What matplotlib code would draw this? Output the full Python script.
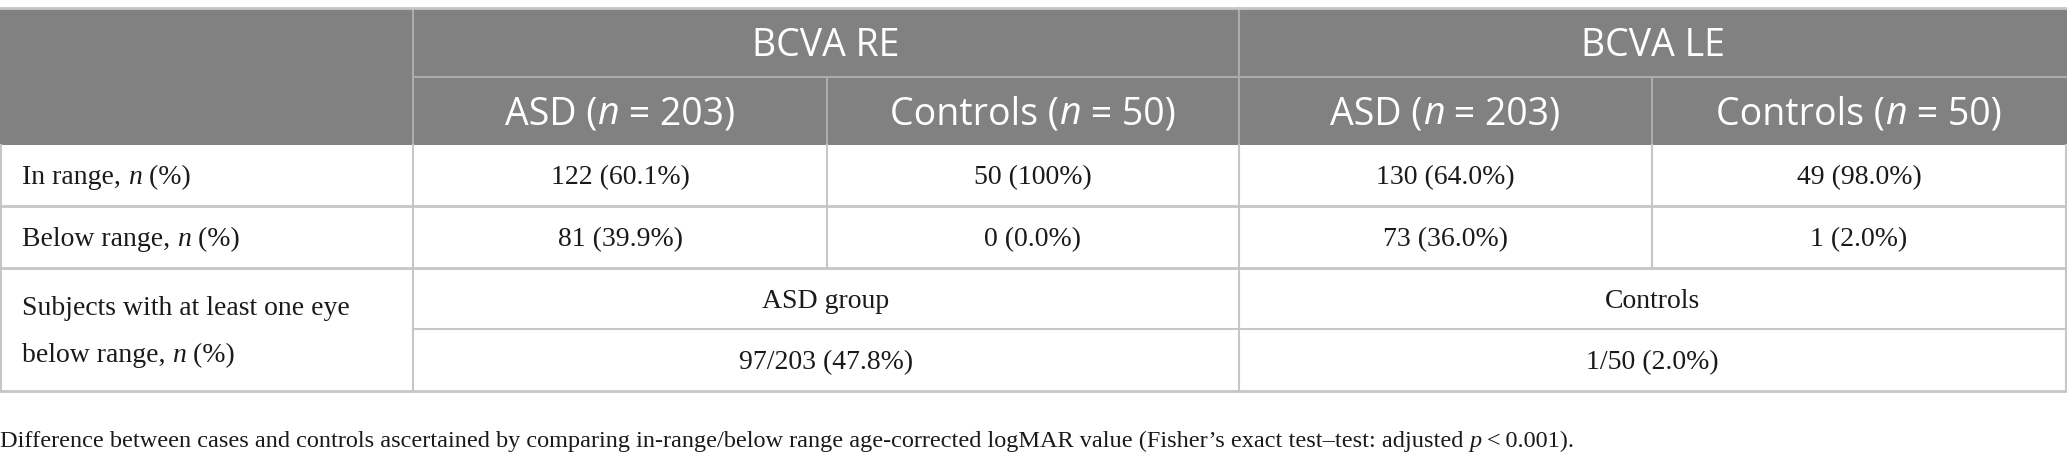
import matplotlib
matplotlib.use("Agg")
import matplotlib.pyplot as plt
from matplotlib.patches import Rectangle

# ---- table content ----
group_headers = ["BCVA RE", "BCVA LE"]
sub_headers = [[("ASD (", False), ("n", True), (" = 203)", False)],
               [("Controls (", False), ("n", True), (" = 50)", False)]] * 2
row_labels = [[("In range, ", False), ("n", True), (" (%)", False)],
              [("Below range, ", False), ("n", True), (" (%)", False)]]
row_values = [["122 (60.1%)", "50 (100%)", "130 (64.0%)", "49 (98.0%)"],
              ["81 (39.9%)", "0 (0.0%)", "73 (36.0%)", "1 (2.0%)"]]
subj_label = [[("Subjects with at least one eye", False)],
              [("below range, ", False), ("n", True), (" (%)", False)]]
subj_groups = ["ASD group", "Controls"]
subj_values = ["97/203 (47.8%)", "1/50 (2.0%)"]
footnote = [("Difference between cases and controls ascertained by comparing "
             "in-range/below range age-corrected logMAR value (Fisher\u2019s exact "
             "test\u2013test: adjusted ", False), ("p", True), ("\u2009<\u20090.001).", False)]

W, H = 2067, 472
fig = plt.figure(figsize=(W / 100, H / 100), dpi=100)
ax = fig.add_axes([0, 0, 1, 1])
ax.set_xlim(0, W)
ax.set_ylim(H, 0)
ax.axis("off")
renderer = fig.canvas.get_renderer()

HEAD_BG = "#808180"
BODY_LINE = "#c6c6c6"
HEAD_LINE = "#acacac"
TXT = "#1a1a1a"
SANS = "Open Sans"
SERIF = ["Liberation Serif", "DejaVu Serif"]
HEAD_FS = 27
BODY_FS = 20
FOOT_FS = 17.5

cols = [0, 413, 827, 1239, 1652, 2066]
rows = [8, 77, 145, 206, 268, 329, 391]


def text_w(s, family, size, italic):
    t = ax.text(0, 0, s, fontfamily=family, fontsize=size,
                fontstyle="italic" if italic else "normal")
    w = t.get_window_extent(renderer).width
    t.remove()
    return w


def seg_width(s, family, size, italic):
    # bracket with a plain "x" on both sides so spaces are counted
    return (text_w("x" + s + "x", family, size, italic)
            - text_w("xx", family, size, italic))


def rich(x, y, parts, family, size, color, ha="center"):
    widths = [seg_width(s, family, size, it) for s, it in parts]
    total = sum(widths)
    x0 = x - total / 2 if ha == "center" else x
    for (s, it), w in zip(parts, widths):
        ax.text(x0, y, s, fontfamily=family, fontsize=size, color=color,
                fontstyle="italic" if it else "normal", ha="left", va="baseline")
        x0 += w


# header background
ax.add_patch(Rectangle((0, rows[0]), W, rows[2] - rows[0], color=HEAD_BG, lw=0))

# header lines
ax.plot([cols[1], cols[5]], [rows[1], rows[1]], color=HEAD_LINE, lw=1.5)
for c in [cols[1], cols[3]]:
    ax.plot([c, c], [rows[0], rows[2]], color=HEAD_LINE, lw=1.5)
for c in [cols[2], cols[4]]:
    ax.plot([c, c], [rows[1], rows[2]], color=HEAD_LINE, lw=1.5)

# body lines
for r in [rows[3], rows[4], rows[6]]:
    ax.plot([0, W], [r, r], color=BODY_LINE, lw=2)
ax.plot([cols[1], W], [rows[5], rows[5]], color=BODY_LINE, lw=1.5)
for c in [cols[1], cols[3]]:
    ax.plot([c, c], [rows[2], rows[6]], color=BODY_LINE, lw=1.5)
for c in [cols[2], cols[4]]:
    ax.plot([c, c], [rows[2], rows[4]], color=BODY_LINE, lw=1.5)
ax.plot([0.75, 0.75], [rows[2], rows[6]], color=BODY_LINE, lw=1.5)
ax.plot([W - 0.75, W - 0.75], [rows[2], rows[6]], color=BODY_LINE, lw=1.5)
ax.plot([0, W], [rows[0], rows[0]], color=BODY_LINE, lw=2)

# header text
for i, g in enumerate(group_headers):
    xc = (cols[1 + 2 * i] + cols[3 + 2 * i]) / 2
    ax.text(xc, 56, g, fontfamily=SANS, fontsize=HEAD_FS, color="white",
            ha="center", va="baseline")
for i, parts in enumerate(sub_headers):
    xc = (cols[1 + i] + cols[2 + i]) / 2
    rich(xc, 124.5, parts, SANS, HEAD_FS, "white")

# body rows
for r, (lab, vals) in enumerate(zip(row_labels, row_values)):
    yb = (rows[2 + r] + rows[3 + r]) / 2 + 9
    rich(22, yb, lab, SERIF, BODY_FS, TXT, ha="left")
    for i, v in enumerate(vals):
        xc = (cols[1 + i] + cols[2 + i]) / 2
        ax.text(xc, yb, v, fontfamily=SERIF, fontsize=BODY_FS, color=TXT,
                ha="center", va="baseline")

rich(22, 315, subj_label[0], SERIF, BODY_FS, TXT, ha="left")
rich(22, 362, subj_label[1], SERIF, BODY_FS, TXT, ha="left")
for i in range(2):
    xc = (cols[1 + 2 * i] + cols[3 + 2 * i]) / 2
    ax.text(xc, (rows[4] + rows[5]) / 2 + 9, subj_groups[i], fontfamily=SERIF,
            fontsize=BODY_FS, color=TXT, ha="center", va="baseline")
    ax.text(xc, (rows[5] + rows[6]) / 2 + 9, subj_values[i], fontfamily=SERIF,
            fontsize=BODY_FS, color=TXT, ha="center", va="baseline")

rich(0, 447, footnote, SERIF, FOOT_FS, TXT, ha="left")

fig.savefig("out.png", dpi=100)
